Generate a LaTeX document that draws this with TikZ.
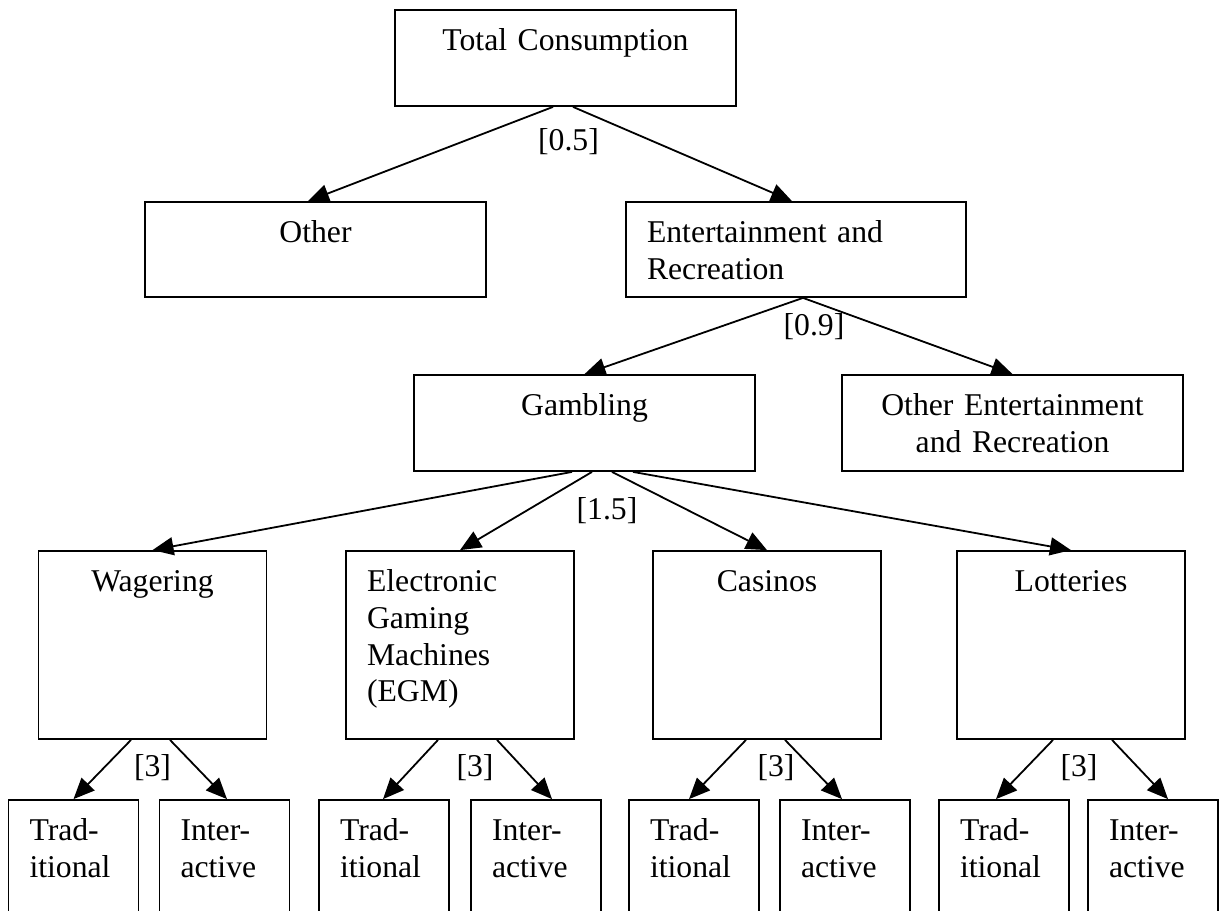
\documentclass[tikz,border=0pt]{standalone}
\usepackage{fontspec}
\setmainfont{Liberation Serif}
\usetikzlibrary{arrows.meta,calc}
\begin{document}
\begin{tikzpicture}[x=0.5pt, y=-0.5pt,
  every node/.style={font=\fontsize{15.85pt}{18.4pt}\selectfont},
  box/.style={draw, line width=0.9pt, rectangle, inner xsep=10.5pt, inner ysep=0pt, text height=20.25pt},
  widebox/.style={box, text width=149.5pt, text depth=27.75pt},
  tallbox/.style={box, text width=93pt, text depth=73.75pt},
  smallbox/.style={box, text width=44pt, text depth=69.75pt, align=left},
  arr/.style={line width=0.9pt, -{Triangle[length=10.5pt,width=9pt]}},
  lbl/.style={anchor=base, inner sep=0pt}
]
\useasboundingbox (0,0) rectangle (1219,910);
\clip (0,0) rectangle (1219,910);
\fill[white] (0,0) rectangle (1219,910);

% level 0-1
\node[widebox, align=center] (tc) at (565.5,58) {Total Consumption};
\node[widebox, align=center, text depth=27.25pt] (oth) at (315.5,249.5) {Other};
\node[widebox, align=left, text width=149pt, text depth=27.25pt] (er) at (796,249.5) {Entertainment and\\Recreation};
% level 2
\node[widebox, align=center] (gam) at (584.5,423) {Gambling};
\node[widebox, align=center] (oer) at (1012.5,423) {Other Entertainment\\and Recreation};
% level 3
\node[tallbox, align=center] (wag) at (152.5,645) {Wagering};
\node[tallbox, align=left] (egm) at (460,645) {Electronic\\Gaming\\Machines\\(EGM)};
\node[tallbox, align=center] (cas) at (767,645) {Casinos};
\node[tallbox, align=center] (lot) at (1071,645) {Lotteries};
% level 4
\node[smallbox] (wt) at (73.5,890) {Trad-\\itional};
\node[smallbox] (wi) at (224.5,890) {Inter-\\active};
\node[smallbox] (et) at (384,890) {Trad-\\itional};
\node[smallbox] (ei) at (536,890) {Inter-\\active};
\node[smallbox] (ct) at (694,890) {Trad-\\itional};
\node[smallbox] (ci) at (845,890) {Inter-\\active};
\node[smallbox] (lt) at (1004,890) {Trad-\\itional};
\node[smallbox] (li) at (1153,890) {Inter-\\active};

% labels
\node[lbl] (l05) at (568.5,150) {[0.5]};
\node[lbl] (l09) at (814,335) {[0.9]};
\node[lbl] (l15) at (607,519) {[1.5]};
\node[lbl] (l3a) at (152.5,776) {[3]};
\node[lbl] (l3b) at (475,776) {[3]};
\node[lbl] (l3c) at (776,776) {[3]};
\node[lbl] (l3d) at (1079,776) {[3]};

% connectors
\draw[arr] ($(tc.south)+(-12.5,0)$) -- ($(oth.north)+(-7.5,0)$);
\draw[arr] ($(tc.south)+(7.5,0)$) -- ($(er.north)+(-4,0)$);
\draw[arr] ($(er.south)+(7,0)$) -- (gam.north);
\draw[arr] ($(er.south)+(7,0)$) -- (oer.north);
\draw[arr] ($(gam.south)+(-12.5,0)$) -- (wag.north);
\draw[arr] ($(gam.south)+(7.5,0)$) -- (egm.north);
\draw[arr] ($(gam.south)+(27.5,0)$) -- (cas.north);
\draw[arr] ($(gam.south)+(48.5,0)$) -- (lot.north);
\draw[arr] ($(wag.south)+(-21.5,0)$) -- (wt.north);
\draw[arr] ($(wag.south)+(17.5,0)$) -- ($(wi.north)+(2.5,0)$);
\draw[arr] ($(egm.south)+(-22,0)$) -- ($(et.north)+(-1,0)$);
\draw[arr] ($(egm.south)+(37,0)$) -- ($(ei.north)+(16,0)$);
\draw[arr] ($(cas.south)+(-21,0)$) -- ($(ct.north)+(-5,0)$);
\draw[arr] ($(cas.south)+(18,0)$) -- ($(ci.north)+(-3,0)$);
\draw[arr] ($(lot.south)+(-18,0)$) -- ($(lt.north)+(-8,0)$);
\draw[arr] ($(lot.south)+(41,0)$) -- ($(li.north)+(15,0)$);
\end{tikzpicture}
\end{document}
